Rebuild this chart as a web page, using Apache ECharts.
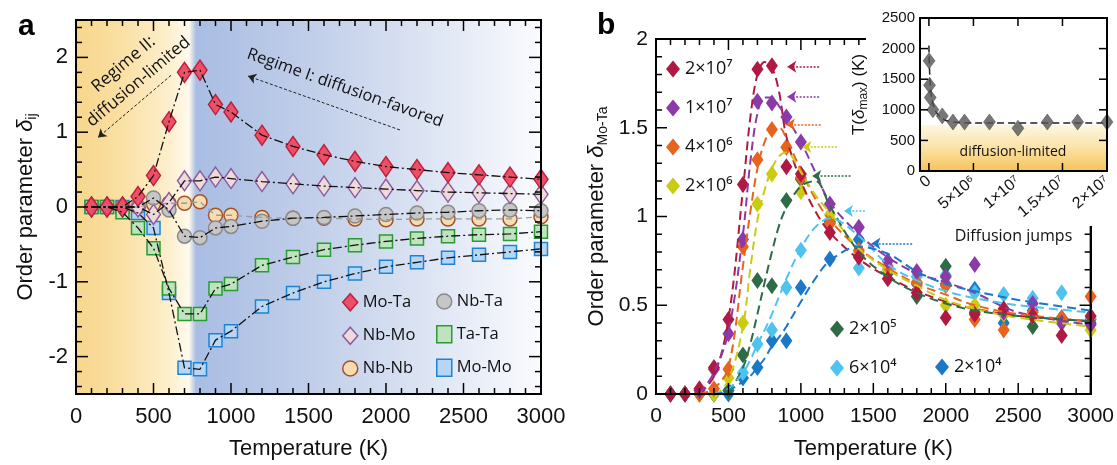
<!DOCTYPE html>
<html>
<head>
<meta charset="utf-8">
<script src="https://cdn.jsdelivr.net/npm/echarts@6/dist/echarts.min.js"></script>
<style>
  html, body { margin: 0; padding: 0; background: #fff; }
  #chart { width: 1117px; height: 465px; }
</style>
</head>
<body>
<div id="chart"></div>
<script>
// ---- panel a: order parameters vs temperature ----
const temps = [100, 200, 300, 400, 500, 600, 700, 800, 900, 1000, 1200, 1400, 1600, 1800, 2000, 2200, 2400, 2600, 2800, 3000];
const moTa = [0, 0, 0, 0.14, 0.42, 1.14, 1.80, 1.83, 1.37, 1.27, 0.96, 0.81, 0.70, 0.61, 0.54, 0.50, 0.46, 0.43, 0.40, 0.37];
const nbMo = [0, 0, 0, 0, -0.10, 0.06, 0.35, 0.35, 0.40, 0.38, 0.34, 0.31, 0.28, 0.26, 0.24, 0.22, 0.20, 0.19, 0.18, 0.17];
const nbNb = [0, 0, 0, 0, 0.04, 0.05, 0.05, 0.07, -0.11, -0.11, -0.14, -0.15, -0.15, -0.16, -0.17, -0.16, -0.16, -0.16, -0.16, -0.13];
const nbTa = [0, 0, 0, 0, 0.12, -0.04, -0.39, -0.41, -0.28, -0.26, -0.19, -0.15, -0.14, -0.12, -0.10, -0.08, -0.07, -0.05, -0.04, -0.05];
const taTa = [0, 0, -0.07, -0.28, -0.55, -1.09, -1.43, -1.43, -1.09, -1.03, -0.78, -0.67, -0.57, -0.51, -0.46, -0.42, -0.39, -0.37, -0.36, -0.33];
const moMo = [0, 0, 0, -0.08, -0.28, -1.15, -2.15, -2.17, -1.78, -1.66, -1.33, -1.15, -1.00, -0.89, -0.80, -0.74, -0.68, -0.64, -0.60, -0.56];

// regime annotation arrows [fromT, fromY, toT, toY]
const regimeArrows = [[613, 1.76, 142, 0.93], [2090, 1.03, 1110, 1.75]];

// ---- panel b: delta Mo-Ta for different numbers of diffusion jumps ----
const jumpNames = ['2×10⁷', '1×10⁷', '4×10⁶', '2×10⁶', '2×10⁵', '6×10⁴', '2×10⁴'];
const jumpColors = ['#b01a42', '#8b3aa8', '#e8641e', '#c9cc12', '#2e6b47', '#4ec3ef', '#1a78c6'];
const dRed = [0, 0, 0.03, 0.15, 0.42, 1.18, 1.83, 1.85, 1.28, 1.24, 0.91, 0.77, 0.65, 0.57, 0.43, 0.45, 0.48, 0.44, 0.33, 0.44];
const dPurple = [0, 0, 0.02, 0.14, 0.34, 0.87, 1.65, 1.64, 1.56, 1.42, 1.07, 0.94, 0.75, 0.69, 0.66, 0.73, 0.46, 0.51, 0.40, 0.39];
const dOrange = [0, 0, 0, 0.03, 0.14, 0.83, 1.32, 1.49, 1.39, 1.22, 0.96, 0.81, 0.72, 0.63, 0.61, 0.42, 0.36, 0.46, 0.43, 0.55];
const dYellow = [0, 0, 0, 0, 0.09, 0.40, 1.07, 1.24, 1.39, 1.14, 1.01, 0.80, 0.70, 0.63, 0.50, 0.50, 0.45, 0.44, 0.42, 0.36];
const dGreen = [0, 0, 0, 0, 0.02, 0.22, 0.64, 0.61, 1.09, 1.21, 0.97, 0.78, 0.68, 0.55, 0.72, 0.46, 0.45, 0.38, 0.42, 0.40];
const dSky = [0, 0, 0, 0, 0.02, 0.12, 0.28, 0.36, 0.60, 0.81, 0.96, 0.71, 0.70, 0.66, 0.67, 0.57, 0.56, 0.54, 0.57, 0.43];
const dBlue = [0, 0, 0, 0, 0, 0.09, 0.15, 0.30, 0.30, 0.60, 0.76, 0.87, 0.68, 0.62, 0.62, 0.59, 0.40, 0.47, 0.43, 0.42];
const jumpData = [dRed, dPurple, dOrange, dYellow, dGreen, dSky, dBlue];

// dashed fit curves
const fitT = [300, 400, 500, 600, 650, 700, 750, 800, 850, 900, 1000, 1100, 1200, 1400, 1600, 1800, 2000, 2200, 2500, 3000];
const fitRed = [0, 0.10, 0.42, 1.15, 1.55, 1.80, 1.87, 1.84, 1.70, 1.45, 1.20, 1.03, 0.91, 0.76, 0.66, 0.58, 0.52, 0.48, 0.44, 0.41];
const fitPurple = [0, 0.12, 0.35, 0.90, 1.30, 1.58, 1.67, 1.67, 1.62, 1.56, 1.42, 1.25, 1.08, 0.90, 0.77, 0.68, 0.63, 0.57, 0.46, 0.39];
const fitOrange = [0, 0.03, 0.15, 0.72, 1.02, 1.27, 1.42, 1.49, 1.50, 1.44, 1.26, 1.10, 0.98, 0.82, 0.71, 0.62, 0.56, 0.50, 0.45, 0.41];
const fitYellow = [0, 0, 0.08, 0.38, 0.70, 0.98, 1.15, 1.27, 1.34, 1.36, 1.25, 1.12, 1.02, 0.82, 0.70, 0.61, 0.53, 0.48, 0.43, 0.38];
const fitGreen = [0, 0, 0.02, 0.15, 0.28, 0.45, 0.63, 0.80, 0.95, 1.05, 1.17, 1.20, 1.06, 0.80, 0.66, 0.57, 0.51, 0.47, 0.44, 0.41];
const fitSky = [0, 0, 0.03, 0.12, 0.19, 0.28, 0.36, 0.45, 0.55, 0.65, 0.82, 0.94, 0.99, 0.89, 0.73, 0.64, 0.58, 0.54, 0.50, 0.46];
const fitBlue = [0, 0, 0.02, 0.07, 0.10, 0.15, 0.20, 0.27, 0.32, 0.38, 0.52, 0.65, 0.75, 0.83, 0.79, 0.69, 0.62, 0.58, 0.53, 0.47];
const fitData = [fitRed, fitPurple, fitOrange, fitYellow, fitGreen, fitSky, fitBlue];

// peak arrows: level, tip T, tail T
const arrowY = [1.843, 1.674, 1.519, 1.391, 1.228, 1.031, 0.848];
const arrowTip = [906, 906, 897, 1010, 1078, 1297, 1487];
const arrowTail = [1126, 1126, 1137, 1250, 1343, 1538, 1768];

// ---- inset: T(delta max) vs diffusion jumps ----
const jumps = [0.02e6, 0.07e6, 0.15e6, 0.45e6, 1.5e6, 2.7e6, 4.0e6, 6.8e6, 10e6, 13.3e6, 16.7e6, 20e6];
const tMax = [1800, 1400, 1200, 1000, 900, 800, 800, 800, 700, 800, 800, 800];
const tFitX = [0, 0.1e6, 0.3e6, 0.7e6, 1.3e6, 2e6, 3e6, 5e6, 20e6];
const tFitY = [2050, 1550, 1200, 990, 880, 820, 795, 785, 785];
const diffLimitT = 750;
const jumpTicks = [0, 5e6, 1e7, 1.5e7, 2e7];
const jumpTickLabels = ['0', '5×10⁶', '1×10⁷', '1.5×10⁷', '2×10⁷'];

const SANS = 'Liberation Sans, Arial, sans-serif';
const CAL = 'Open Sans, Noto Sans, sans-serif';
const pairs = (xs, ys) => xs.map((x, i) => [x, ys[i]]);
const plain = v => String(v);

// tick marks [value, length] for the framed axes
const tempTicks = [];
for (let t = 0; t <= 3000; t += 100) tempTicks.push([t, t % 500 === 0 ? 11 : 6]);
const aTicks = [];
for (let v = -24; v <= 24; v += 2) aTicks.push([v / 10, v % 10 === 0 ? 12 : 6]);
const bTicks = [];
for (let v = 0; v <= 20; v++) bTicks.push([v / 10, v % 5 === 0 ? 11 : 6]);
const insetXTicks = jumpTicks.map(v => [v, 8]);
const insetYTicks = [0, 500, 1000, 1500, 2000, 2500].map(v => [v, 8]);

const lineAx = { show: true, onZero: false, lineStyle: { color: '#000', width: 2 } };
const noTick = { show: false };

function subName(main, sub, size, subSize) {
    return {
        name: '{t|' + main + '}{d|δ}{s|' + sub + '}',
        nameTextStyle: { rich: {
            t: { fontSize: size, fontFamily: SANS, color: '#111', lineHeight: size + 4 },
            d: { fontSize: size, fontFamily: SANS, color: '#111', fontStyle: 'italic', lineHeight: size + 4 },
            s: { fontSize: subSize, fontFamily: SANS, color: '#111', verticalAlign: 'bottom', lineHeight: size + 4 } } }
    };
}

const xAxes = [
    { gridIndex: 0, type: 'value', min: 0, max: 3000, interval: 500, position: 'bottom',
      axisLine: lineAx, axisTick: noTick, splitLine: { show: false },
      axisLabel: { fontSize: 22, fontFamily: SANS, color: '#111', margin: 12, formatter: plain },
      name: 'Temperature (K)', nameLocation: 'middle', nameGap: 44,
      nameTextStyle: { fontSize: 22, fontFamily: SANS, color: '#111' } },
    { gridIndex: 0, type: 'value', min: 0, max: 3000, interval: 500, position: 'top',
      axisLine: lineAx, axisTick: noTick, splitLine: { show: false }, axisLabel: { show: false } },
    { gridIndex: 1, type: 'value', min: 0, max: 3000, interval: 500, position: 'bottom',
      axisLine: lineAx, axisTick: noTick, splitLine: { show: false },
      axisLabel: { fontSize: 21, fontFamily: SANS, color: '#111', margin: 12, formatter: plain },
      name: 'Temperature (K)', nameLocation: 'middle', nameGap: 44,
      nameTextStyle: { fontSize: 22, fontFamily: SANS, color: '#111' } },
    { gridIndex: 1, type: 'value', min: 0, max: 3000, interval: 500, position: 'top',
      axisLine: lineAx, axisTick: noTick, splitLine: { show: false }, axisLabel: { show: false } },
    { gridIndex: 2, type: 'value', min: -1e6, max: 2e7, position: 'bottom', z: 60,
      axisLine: lineAx, axisTick: noTick, splitLine: { show: false },
      axisLabel: { fontSize: 16, fontFamily: SANS, color: '#111', rotate: 40, margin: 8, customValues: jumpTicks,
          formatter: v => { const i = jumpTicks.indexOf(v); return i < 0 ? '' : jumpTickLabels[i]; } },
      name: 'Diffusion jumps', nameLocation: 'middle', nameGap: 57,
      nameTextStyle: { fontSize: 16, fontFamily: CAL, color: '#111' } },
    { gridIndex: 2, type: 'value', min: -1e6, max: 2e7, position: 'top', z: 60,
      axisLine: lineAx, axisTick: noTick, splitLine: { show: false }, axisLabel: { show: false } }
];

const yAxes = [
    Object.assign({ gridIndex: 0, type: 'value', min: -2.5, max: 2.5, interval: 0.5, position: 'left',
      axisLine: lineAx, axisTick: noTick, splitLine: { show: false },
      axisLabel: { fontSize: 22, fontFamily: SANS, color: '#111', margin: 8, customValues: [-2, -1, 0, 1, 2] },
      nameLocation: 'middle', nameGap: 37 }, subName('Order parameter ', 'ij', 22, 14)),
    { gridIndex: 0, type: 'value', min: -2.5, max: 2.5, interval: 0.5, position: 'right',
      axisLine: lineAx, axisTick: noTick, splitLine: { show: false }, axisLabel: { show: false } },
    Object.assign({ gridIndex: 1, type: 'value', min: 0, max: 2, interval: 0.5, position: 'left',
      axisLine: lineAx, axisTick: noTick, splitLine: { show: false },
      axisLabel: { fontSize: 21, fontFamily: SANS, color: '#111', margin: 8 },
      nameLocation: 'middle', nameGap: 46 }, subName('Order parameter ', 'Mo-Ta', 22, 14)),
    { gridIndex: 1, type: 'value', min: 0, max: 2, interval: 0.5, position: 'right',
      axisLine: lineAx, axisTick: noTick, splitLine: { show: false }, axisLabel: { show: false } },
    { gridIndex: 2, type: 'value', min: 0, max: 2500, interval: 500, position: 'left', z: 60,
      axisLine: lineAx, axisTick: noTick, splitLine: { show: false },
      axisLabel: { fontSize: 15, fontFamily: SANS, color: '#111', margin: 5, formatter: plain },
      nameLocation: 'middle', nameGap: 50,
      name: '{t|T(}{d|δ}{s|max}{t|) (K)}',
      nameTextStyle: { rich: {
          t: { fontSize: 17, fontFamily: SANS, color: '#111', lineHeight: 21 },
          d: { fontSize: 17, fontFamily: SANS, color: '#111', fontStyle: 'italic', lineHeight: 21 },
          s: { fontSize: 12, fontFamily: SANS, color: '#111', verticalAlign: 'bottom', lineHeight: 21 } } } },
    { gridIndex: 2, type: 'value', min: 0, max: 2500, interval: 500, position: 'right', z: 60,
      axisLine: lineAx, axisTick: noTick, splitLine: { show: false }, axisLabel: { show: false } }
];

const dashDot = [9, 3, 2, 3];
const aSeriesDef = [
    // name, values, fill, border, symbol, size, line color, line type
    ['Mo-Mo', moMo, '#b7d6f5', '#1f82d2', 'rect', [13, 13], '#111', dashDot],
    ['Nb-Nb', nbNb, '#f6dcae', '#a0522d', 'circle', 14, '#9a9a9a', [6, 4]],
    ['Nb-Ta', nbTa, '#c6c6c6', '#8a8a8a', 'circle', 14, '#111', dashDot],
    ['Ta-Ta', taTa, '#bfe3bf', '#2a9a32', 'rect', [13, 13], '#111', dashDot],
    ['Nb-Mo', nbMo, '#efdada', '#8a5ca0', 'diamond', [14, 20], '#111', dashDot],
    ['Mo-Ta', moTa, '#eb5068', '#c0203c', 'diamond', [14, 20], '#111', dashDot]
];

const series = [];
aSeriesDef.forEach(d => {
    series.push({ name: d[0] + ' line', type: 'line', xAxisIndex: 0, yAxisIndex: 0, data: pairs(temps, d[1]),
        showSymbol: false, symbol: 'none', lineStyle: { color: d[6], width: 1.3, type: d[7] }, silent: true });
});
series[series.length - 1].markLine = {
    silent: true, symbol: ['none', 'arrow'], symbolSize: 8, animation: false,
    label: { show: false }, lineStyle: { color: '#222', width: 1, type: [3, 2] },
    data: regimeArrows.map(a => [{ coord: [a[0], a[1]] }, { coord: [a[2], a[3]] }])
};
aSeriesDef.forEach(d => {
    series.push({ name: d[0], type: 'scatter', xAxisIndex: 0, yAxisIndex: 0, data: pairs(temps, d[1]),
        symbol: d[4], symbolSize: d[5], itemStyle: { color: d[2], borderColor: d[3], borderWidth: 1.5, opacity: 1 } });
});

fitData.forEach((fd, i) => {
    series.push({ name: jumpNames[i] + ' fit', type: 'line', xAxisIndex: 2, yAxisIndex: 2, data: pairs(fitT, fd),
        smooth: 0.35, symbol: 'none', lineStyle: { color: jumpColors[i], width: 2, type: [9, 5] }, silent: true,
        markLine: {
            silent: true, symbol: ['none', 'arrow'], symbolSize: 9, animation: false, label: { show: false },
            lineStyle: { color: jumpColors[i], width: 1.5, type: [2, 1.5] },
            data: [[{ coord: [arrowTail[i], arrowY[i]] }, { coord: [arrowTip[i], arrowY[i]] }]] } });
});
for (let i = jumpData.length - 1; i >= 0; i--) {
    series.push({ name: jumpNames[i], type: 'scatter', xAxisIndex: 2, yAxisIndex: 2, data: pairs(temps, jumpData[i]),
        symbol: 'diamond', symbolSize: [12, 17], itemStyle: { color: jumpColors[i], opacity: 1 } });
}

series.push({ name: 'limited', type: 'line', xAxisIndex: 4, yAxisIndex: 4, z: 55, symbol: 'none', silent: true,
    data: [[-1e6, diffLimitT], [2e7, diffLimitT]], lineStyle: { width: 0 },
    areaStyle: { opacity: 1, color: { type: 'linear', x: 0, y: 0, x2: 0, y2: 1,
        colorStops: [{ offset: 0, color: '#fdf6e2' }, { offset: 0.5, color: '#fbe2a6' }, { offset: 1, color: '#f6c35a' }] } } });
series.push({ name: 'tfit', type: 'line', xAxisIndex: 4, yAxisIndex: 4, z: 56, symbol: 'none', smooth: 0.3, silent: true,
    data: pairs(tFitX, tFitY), lineStyle: { color: '#222', width: 1.5, type: [7, 4] } });
series.push({ name: 'tmax', type: 'scatter', xAxisIndex: 4, yAxisIndex: 4, z: 57, data: pairs(jumps, tMax),
    symbol: 'diamond', symbolSize: [12, 16], itemStyle: { color: '#555', borderColor: '#333', borderWidth: 0.5 } });

function legendItems(names) {
    return names.map(n => {
        const d = aSeriesDef.find(x => x[0] === n);
        return { name: n, icon: d[4], itemStyle: { color: d[2], borderColor: d[3], borderWidth: 1.5 } };
    });
}
function jumpLegend(idx) {
    return idx.map(i => ({ name: jumpNames[i], icon: 'diamond', itemStyle: { color: jumpColors[i], borderWidth: 0 } }));
}
const legA = { orient: 'vertical', itemWidth: 15, itemHeight: 17, itemGap: 15, selectedMode: false,
               textStyle: { fontSize: 16.5, fontFamily: CAL, color: '#111' } };
const legB = { orient: 'vertical', itemWidth: 14, itemHeight: 17, itemGap: 21, selectedMode: false,
               textStyle: { fontSize: 18, fontFamily: CAL, color: '#111' } };

const aBg = { type: 'linear', x: 0, y: 0, x2: 1, y2: 0, colorStops: [
    { offset: 0, color: '#f8d68c' }, { offset: 0.1, color: '#fae0a4' }, { offset: 0.2, color: '#fdefcd' },
    { offset: 0.243, color: '#fffaee' }, { offset: 0.258, color: '#a9bde3' }, { offset: 0.5, color: '#c0cee9' },
    { offset: 0.8, color: '#e2e8f5' }, { offset: 1, color: '#fafbfe' }] };

const baseGraphics = [
    { type: 'rect', shape: { x: 866, y: 0, width: 251, height: 226 }, style: { fill: '#fff' }, z: 50, silent: true },
    { type: 'text', x: 18, y: 27, z: 100, style: { text: 'a', font: 'bold 30px Liberation Sans', fill: '#000', verticalAlign: 'middle' } },
    { type: 'text', x: 597, y: 26, z: 100, style: { text: 'b', font: 'bold 30px Liberation Sans', fill: '#000', verticalAlign: 'middle' } },
    { type: 'text', x: 131, y: 73, rotation: 0.70, z: 100,
      style: { text: 'Regime II:\ndiffusion-limited', font: '17px Open Sans', fill: '#111', align: 'center', verticalAlign: 'middle', lineHeight: 23 } },
    { type: 'text', x: 345, y: 88, rotation: -0.34, z: 100,
      style: { text: 'Regime I: diffusion-favored', font: '16.5px Open Sans', fill: '#111', align: 'center', verticalAlign: 'middle' } },
    { type: 'text', x: 1013, y: 152, z: 100,
      style: { text: 'diffusion-limited', font: '14px Open Sans', fill: '#111', align: 'center', verticalAlign: 'middle' } }
];

const option = {
    animation: false,
    grid: [
        { left: 76, top: 20, width: 465, height: 376, show: true, backgroundColor: aBg, borderWidth: 0 },
        { left: 656, top: 39, width: 437, height: 356 },
        { left: 920, top: 18, width: 187, height: 153, z: 55 }
    ],
    xAxis: xAxes,
    yAxis: yAxes,
    legend: [
        Object.assign({ left: 337, top: 288, data: legendItems(['Mo-Ta', 'Nb-Mo', 'Nb-Nb']) }, legA),
        Object.assign({ left: 431, top: 288, data: legendItems(['Nb-Ta', 'Ta-Ta', 'Mo-Mo']) }, legA),
        Object.assign({ left: 661, top: 55, itemGap: 23, data: jumpLegend([0, 1, 2, 3]) }, legB),
        Object.assign({ left: 825, top: 315, data: jumpLegend([4, 5]) }, legB),
        Object.assign({ left: 930, top: 353, data: jumpLegend([6]) }, legB)
    ],
    graphic: { elements: baseGraphics },
    series: series
};

const chart = echarts.init(document.getElementById('chart'));
chart.setOption(option);

// frame and inward ticks, placed through each grid's own axes
function frameMarks(gridIndex, xTicks, yTicks, xr, yr, z) {
    const px = (x, y) => chart.convertToPixel({ gridIndex: gridIndex }, [x, y]);
    const els = [];
    const bar = (x, y, w, h) => els.push({ type: 'rect', silent: true, z: z,
        shape: { x: x, y: y, width: w, height: h }, style: { fill: '#000' } });
    const bl = px(xr[0], yr[0]), tr = px(xr[1], yr[1]);
    const L = bl[0], R = tr[0], T = tr[1], B = bl[1];
    bar(L - 1, T - 1, R - L + 2, 2);
    bar(L - 1, B - 1, R - L + 2, 2);
    bar(L - 1, T - 1, 2, B - T + 2);
    bar(R - 1, T - 1, 2, B - T + 2);
    xTicks.forEach(([v, len]) => {
        const x = px(v, yr[0])[0];
        bar(x - 0.75, B - len, 1.5, len);
        bar(x - 0.75, T, 1.5, len);
    });
    yTicks.forEach(([v, len]) => {
        const y = px(xr[0], v)[1];
        bar(L, y - 0.75, len, 1.5);
        bar(R - len, y - 0.75, len, 1.5);
    });
    return els;
}
const tickGraphics = []
    .concat(frameMarks(0, tempTicks, aTicks, [0, 3000], [-2.5, 2.5], 40))
    .concat(frameMarks(1, tempTicks, bTicks, [0, 3000], [0, 2], 40))
    .concat(frameMarks(2, insetXTicks, insetYTicks, [-1e6, 2e7], [0, 2500], 70));
chart.setOption({ graphic: { elements: baseGraphics.concat(tickGraphics) } });
</script>
</body>
</html>
